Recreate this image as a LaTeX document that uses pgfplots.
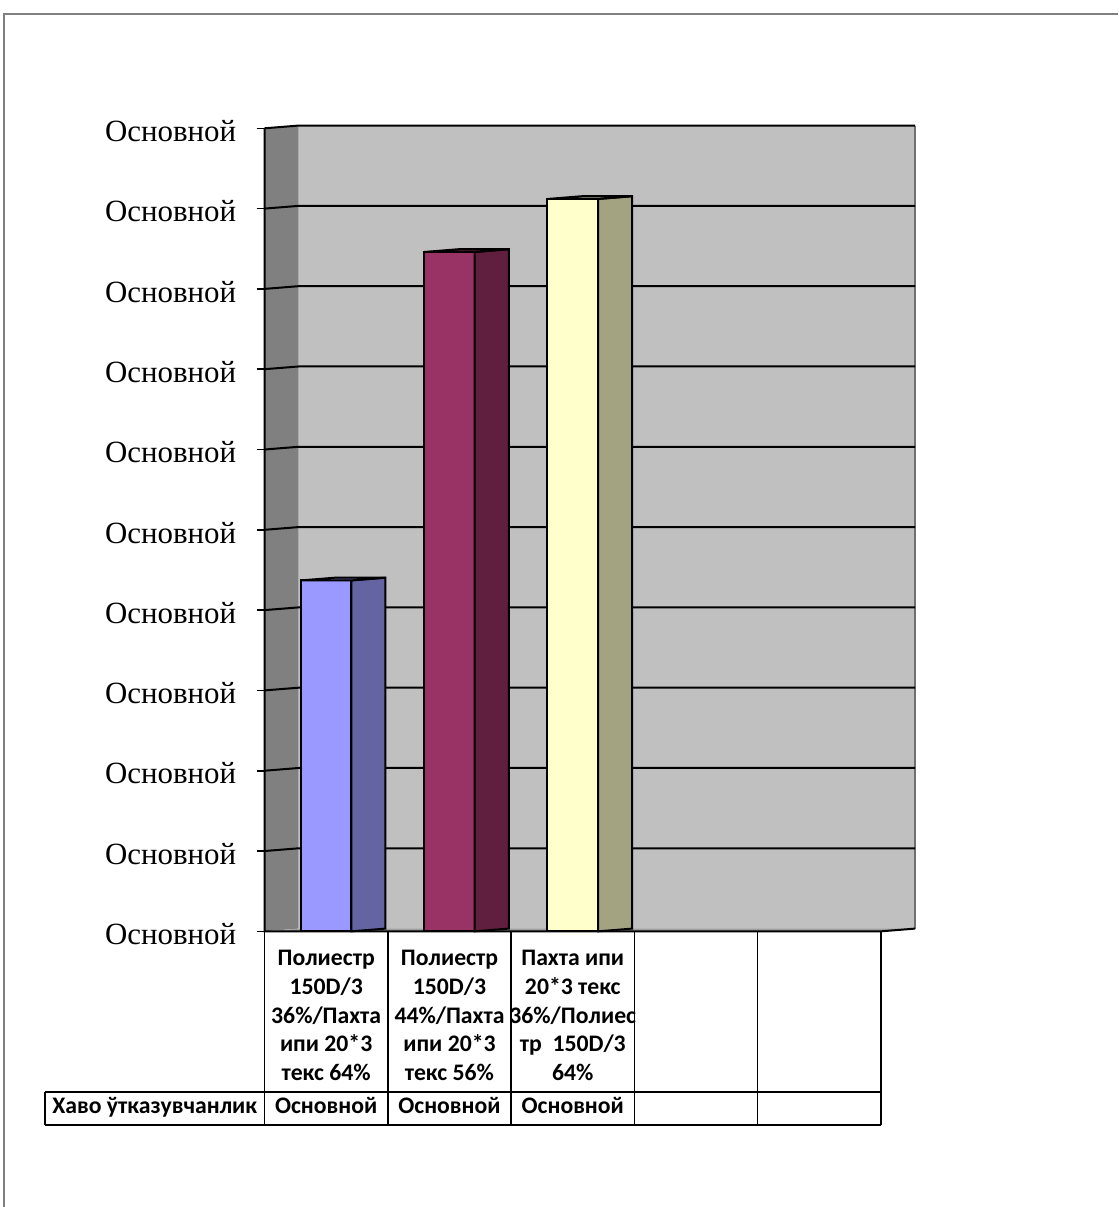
\documentclass[border=0pt]{standalone}
\usepackage{fontspec}
\setmainfont{Liberation Serif}
\newfontfamily\carlito{Carlito}
\usepackage{pgfplots}
\pgfplotsset{compat=1.18}
\definecolor{backwall}{HTML}{C0C0C0}
\definecolor{sidewall}{HTML}{808080}
\definecolor{floorc}{HTML}{A0A0A0}
\definecolor{framegray}{HTML}{808080}
\definecolor{bAfront}{HTML}{9999FF}
\definecolor{bAside}{HTML}{6464A2}
\definecolor{bBfront}{HTML}{993366}
\definecolor{bBside}{HTML}{611F3F}
\definecolor{bCfront}{HTML}{FFFFCC}
\definecolor{bCside}{HTML}{A3A381}
\begin{document}
\begin{tikzpicture}
\begin{scope}[x=0.5bp,y=-0.5bp]
\useasboundingbox (0,0) rectangle (1118,1207);
\draw[line width=1bp, color=framegray] (3.5,1207) -- (3.5,14) -- (1118,14);
\end{scope}
\begin{axis}[
  at={(132.25bp,-465.65bp)}, anchor=south west,
  width=308.25bp, height=401.5bp, scale only axis,
  xmin=0, xmax=5, ymin=0, ymax=10, clip=false,
  axis line style={draw=none},
  ytick={0,1,2,3,4,5,6,7,8,9,10},
  yticklabels={Основной,Основной,Основной,Основной,Основной,Основной,Основной,Основной,Основной,Основной,Основной},
  ytick pos=left, tick align=outside, major tick length=4bp,
  ytick style={black, line width=0.8bp},
  yticklabel style={font=\fontsize{15.5}{18}\selectfont, anchor=base east, inner sep=0pt, yshift=-6.6bp, xshift=-10bp},
  xtick={0.5,1.5,2.5,3.5,4.5},
  xticklabels={{Полиестр\\150D/3\\36\%/Пахта\\ипи 20*3\\текс 64\%},{Полиестр\\150D/3\\44\%/Пахта\\ипи 20*3\\текс 56\%},{Пахта ипи\\20*3 текс\\36\%/Полиес\\тр\ \ 150D/3\\64\%},{},{}},
  xtick style={draw=none}, xtick pos=bottom,
  xticklabel style={font=\carlito\bfseries\fontsize{11.9}{14.4}\selectfont, align=center, anchor=north, inner sep=0pt, yshift=-5.3bp},
]
% walls
\fill[backwall] (axis cs:0.276,0.034) rectangle (axis cs:5.276,10.034);
\draw[color=floorc!70!black, line width=0.8bp] (axis cs:5.276,0.034) -- (axis cs:5.276,10.034);
\fill[sidewall] (axis cs:0,0) -- (axis cs:0.276,0.034) -- (axis cs:0.276,10.034) -- (axis cs:0,10) -- cycle;
\fill[floorc] (axis cs:0,0) -- (axis cs:5,0) -- (axis cs:5.276,0.034) -- (axis cs:0.276,0.034) -- cycle;
\pgfplotsinvokeforeach{1,...,10}{
  \draw[black, line width=1bp] (axis cs:0,#1) -- (axis cs:0.276,#1+0.034) -- (axis cs:5.276,#1+0.034);
}
\draw[black, line width=1bp] (axis cs:0,10) -- (axis cs:0,0) -- (axis cs:5,0) -- (axis cs:5.276,0.034);
% bars: front faces, side faces, top faces
\addplot[ybar, bar shift=0pt, bar width=0.41, fill=bAfront, draw=black, line width=1bp] coordinates {(0.5,4.37)};
\addplot[fill=bAside, draw=black, line width=1bp] coordinates {(0.705,0) (0.981,0.034) (0.981,4.404) (0.705,4.37)} -- cycle;
\addplot[fill=bAside, draw=black, line width=1bp] coordinates {(0.295,4.37) (0.705,4.37) (0.981,4.404) (0.571,4.404)} -- cycle;
\addplot[ybar, bar shift=0pt, bar width=0.41, fill=bBfront, draw=black, line width=1bp] coordinates {(1.5,8.46)};
\addplot[fill=bBside, draw=black, line width=1bp] coordinates {(1.705,0) (1.981,0.034) (1.981,8.494) (1.705,8.46)} -- cycle;
\addplot[fill=bBside, draw=black, line width=1bp] coordinates {(1.295,8.46) (1.705,8.46) (1.981,8.494) (1.571,8.494)} -- cycle;
\addplot[ybar, bar shift=0pt, bar width=0.41, fill=bCfront, draw=black, line width=1bp] coordinates {(2.5,9.12)};
\addplot[fill=bCside, draw=black, line width=1bp] coordinates {(2.705,0) (2.981,0.034) (2.981,9.154) (2.705,9.12)} -- cycle;
\addplot[fill=bCside, draw=black, line width=1bp] coordinates {(2.295,9.12) (2.705,9.12) (2.981,9.154) (2.571,9.154)} -- cycle;
\end{axis}
\begin{scope}[x=0.5bp,y=-0.5bp]
\draw[black, line width=0.75bp] (45,1092) -- (881,1092) (45,1125) -- (881,1125) (45,1092) -- (45,1125);
\foreach \xx in {264.5,387.8,511.1,634.4,757.7,881} {\draw[black, line width=0.75bp] (\xx,931.3) -- (\xx,1125);}
\node[anchor=base, inner sep=0pt, font=\carlito\bfseries\fontsize{11.9}{14.4}\selectfont] at (154.75,1113) {Хаво ўтказувчанлик};
\node[anchor=base, inner sep=0pt, font=\carlito\bfseries\fontsize{11.9}{14.4}\selectfont] at (326.15,1113) {Основной};
\node[anchor=base, inner sep=0pt, font=\carlito\bfseries\fontsize{11.9}{14.4}\selectfont] at (449.45,1113) {Основной};
\node[anchor=base, inner sep=0pt, font=\carlito\bfseries\fontsize{11.9}{14.4}\selectfont] at (572.75,1113) {Основной};
\end{scope}
\end{tikzpicture}
\end{document}
